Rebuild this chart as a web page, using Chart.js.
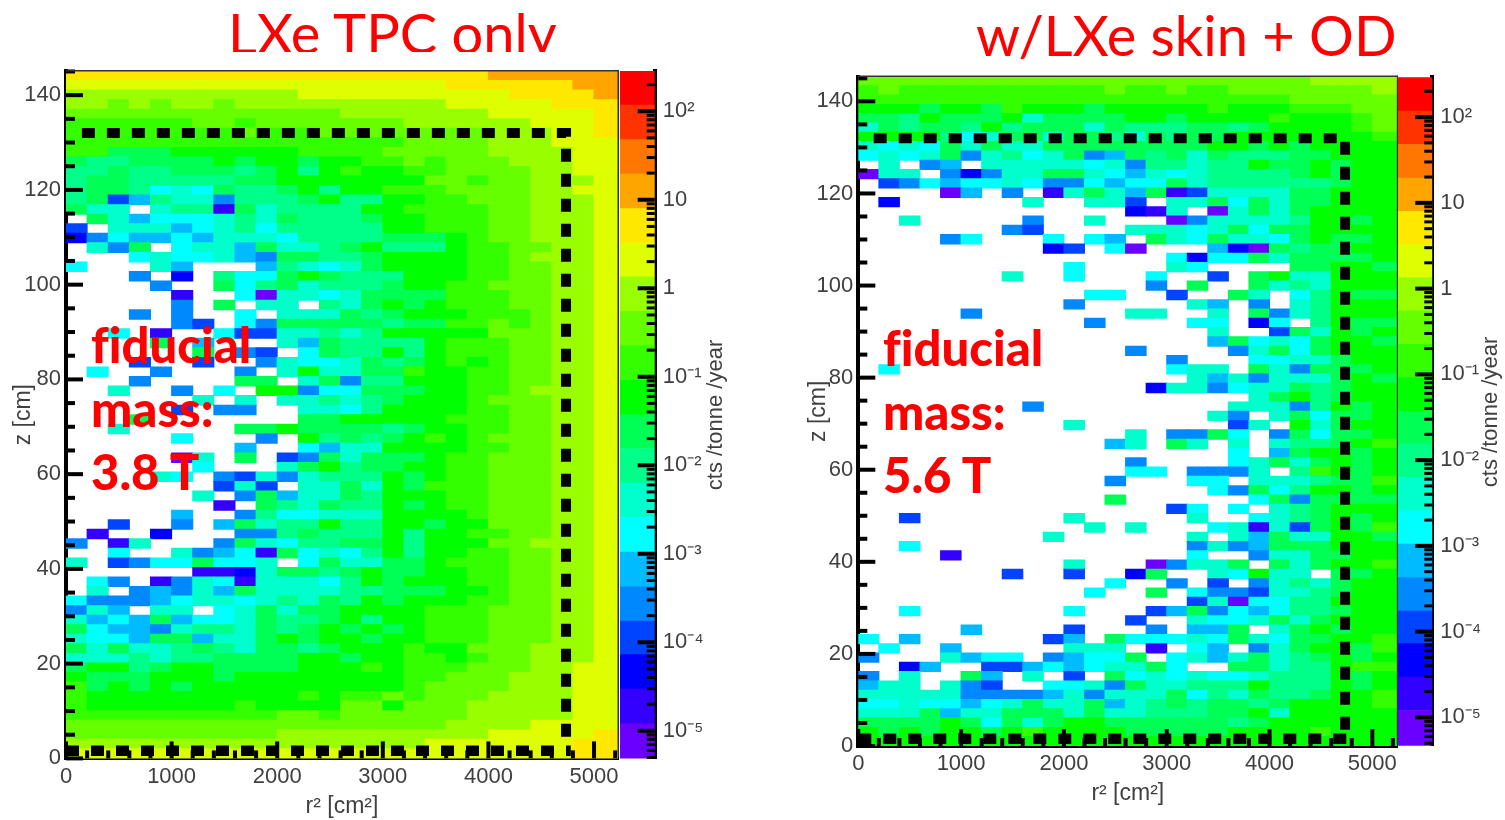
<!DOCTYPE html>
<html>
<head>
<meta charset="utf-8">
<title>LXe TPC background maps</title>
<script src="https://cdn.jsdelivr.net/npm/chart.js@4/dist/chart.umd.min.js"></script>
<style>
  html, body { margin: 0; padding: 0; background: #fff; }
  body { width: 1505px; height: 820px; position: relative; overflow: hidden; }
  canvas { position: absolute; top: 0; }
  .title { position: absolute; color: #f00; font-family: Lato, sans-serif; font-size: 56px; line-height: 66px; white-space: nowrap; overflow: hidden; }
  .mass { position: absolute; color: #f00; font-family: Lato, sans-serif; font-weight: 900; font-size: 49px; line-height: 63.5px; white-space: nowrap; font-variant-ligatures: none; }
</style>
</head>
<body>
<canvas id="leftMap"></canvas>
<canvas id="leftBar"></canvas>
<canvas id="rightMap"></canvas>
<canvas id="rightBar"></canvas>
<div class="title" style="left:228px;top:0;height:52px">LXe TPC only</div>
<div class="title" style="left:976px;top:2px">w/LXe skin + OD</div>
<div class="mass" style="left:91px;top:313px">fiducial<br>mass:<br>3.8 T</div>
<div class="mass" style="left:883px;top:316px">fiducial<br>mass:<br>5.6 T</div>
<script>
// colour levels of the palette, lowest first; '.' in a row means an empty bin
const levelChars = '0123456789abcdefghij';
const levelColors = ['#6a00ff', '#3300ff', '#0000ff', '#0044ff', '#0088ff', '#00bbff', '#00ffff', '#00ffcc', '#00ff88', '#00ff55',
  '#00ff00', '#33ff00', '#66ff00', '#99ff00', '#ddff00', '#ffe800', '#ffa500', '#ff7700', '#ff3300', '#ff0000'];
const levelEdges = [-5.4, -4.92, -4.53, -4.14, -3.76, -3.37, -2.98, -2.59, -2.2, -1.81, -1.43, -1.04, -0.65, -0.26, 0.13, 0.51, 0.9, 1.29, 1.68, 2.07, 2.5];

// LXe TPC only, top row first, one character per 200 cm2 bin
const leftRows = [
  'ffffffffffffffffffffgggggg',
  'eeeeeeeeeeeeeeeeeeffffffgg',
  'dddddddddddeeeeeeeeeeffffg',
  'ddcdcddcddddddddddeeeeefff',
  'cccccccccccccdddddddeeeeef',
  'bbbbbbccbcccccccddddddeeef',
  'bbbbbbbbcbbbccccccccdddeef',
  'bbbbbbbbbbbbbbbbccccdddeee',
  'bb999aaaaaabbbbcccccddddee',
  '9889999a9aa9aabbcbcccdddee',
  '8898899989a8abaabbccccddee',
  '8998888899aaaaaaaccbccddde',
  '89986769889a8aabbbccccddee',
  '893587748889a88aabbcccddde',
  '977.7881978888aabbbbccddde',
  '.97566678798889aabbbccddde',
  '3.7775678688888aabbbccddde',
  '246556577768888999abccddde',
  '.749.677597789a888abbccdde',
  '...676675499889aaaabbcddde',
  '6...75...587679aaaabbccdde',
  '...4.2.8669a9888aaabbccdde',
  '....4..968978889aabbcccdde',
  '.....1..6077679999bbbccdde',
  '.....4.9.77.879a9abbbccdde',
  '...4.4..6.777989aaabbbcdde',
  '.....43.6499999899bbcbcdde',
  '..6.1..63377878aaaaacccdde',
  '....9.5...7598888abbbccdde',
  '......9.43.6988a8abbbccdde',
  '...3..3..47667989ababccdde',
  '.6..4...4.7a7799baabbccdde',
  '...4....99.79488aaabbccdde',
  '..7..4.6.aa466999aabbcddde',
  '......7.7.778789aaabcccdde',
  '.....3.44..7768aaaabbccdde',
  '...9.......99aaaaabbbccdde',
  '..7.....99a999989aabbccdde',
  '.....6...4.a8989ababcccdde',
  '........5..6577aaaabbccdde',
  '.....07.9.3497999abbcccdde',
  '......6...79a899aabbcccdde',
  '....76.43747888a9abbcccdde',
  '.......373.7797a9bbbcccdde',
  '......7.4957798aaabbcccdde',
  '.......1.987988a9abbcccdde',
  '.....5..4866777aaaabcccdde',
  '..3..4.59788a88aa9aacccdde',
  '.1..2...4489888a8aabbccdde',
  '4.17...49768899a8aaaccddde',
  '..6..7456196768a8aabbccdde',
  '7.34669667.697799abbbccdde',
  '......11279989a99aabbccdde',
  '.64.1476177768a9aaabbccdde',
  '.7.454759777788999aabccdde',
  '64445677678798a9aaabbccdde',
  '475.77.679799aaaabbbcccdde',
  '7565956679889a8aabbbcccdde',
  '965547887989a9a9abbbcccdde',
  '7665995779a9aa9aabbbcccdde',
  '9797789879989aaabaacccddde',
  '77787889999aa9aabbabccddde',
  '9aa89aa9999aaababbbcccddee',
  'a999aaa9aaaaaaaabbcccdddee',
  'b9a9a9aaaaaaaaaabccccdddee',
  'baaaaaaaaaababbcbcccddddee',
  'baaaaaaabaaaaccacccdddddee',
  'bbbbbbbbbbccbccccccdddddee',
  'ccccccccccccccccccddddeeee',
  'ccccccccccddddddddddeeeeef',
  'dddddddddddddddddeeeeeeeff',
  'eeeeeeeeeeeeeeeeeeeeeeeeff'
];

// w/LXe skin + OD
const rightRows = [
  'ccccccccccccccccccccccdddd',
  'bcbbbbbbbbbbcbbcbbcccccccd',
  'bbbbbbbbbbbbbbbbbbbbbccccc',
  'aaa9aa9baaa9aaaaabaaabbbcc',
  '998a999a79999aa9aaaabaaabc',
  '798998a8999798889989aaaabc',
  'aaaa86799799879899aaaaaaab',
  '76769797799999999aa9a9aaaa',
  '67679478679459897988899aaa',
  '.7.45.7777767488788a99a9aa',
  '077.424779976576788889a9aa',
  '.34656676446566978888889aa',
  '....05.4.17975913777799aaa',
  '.2......7..773.77969799aaa',
  '.............217.07979aaaa',
  '..7.....4..7...0477778aa9a',
  '.......43....777679699aaaa',
  '....46...6.65.97697769a99a',
  '.........23.60...5209899aa',
  '...............6266979999a',
  '..........6....76....99aa9',
  '.......7..6...6..3.9a77aaa',
  '..............4.9..9787aaa',
  '...........66..3..97.68a99',
  '..........4.....75.4.78aaa',
  '.....4.......77..7.9478aaa',
  '...........4....66.26.8a99',
  '.................7..397a9a',
  '.................596769aa9',
  '.............4....47969aaa',
  '...............4...66779aa',
  '.6.............677.974999a',
  '................75747779a9',
  '..............2774677989aa',
  '...................79a89aa',
  '........4.........77748a9a',
  '.................74.79699a',
  '..........7.......37.a79aa',
  '.............7.4496.49699a',
  '............57.97.7.7889ab',
  '..................6.59aa9a',
  '.............4....67979a9a',
  '.............66.4447.8ba9a',
  '............4...66.777899b',
  '.................64968aa9a',
  '............9......6949999',
  '...............36.6.789aaa',
  '..3.......7.....7..6789a9a',
  '...........7.7...671739a9b',
  '.........7......7.75977aa9',
  '..6.............4745999aaa',
  '....1...........6..47799aa',
  '..........7...04779.979aab',
  '.......3..3..29..76a77.99a',
  '............6..4.3.47879aa',
  '...........6..9.64437789aa',
  '................3706688aaa',
  '..6.......6...3594656889aa',
  '.............3..7667979aaa',
  '.....5....3...4.559.79a9aa',
  '6.5......35.96667697699aab',
  '.6..5.....777.1.65.479aa9b',
  '4...7566.45669.67579789a9a',
  '..25..3356567796..99788abb',
  '4.7..95.7.3.96767667888a9a',
  '577.743..6674977888a888a9a',
  '77777444457477796879889aab',
  '667665679779578989989aaaab',
  '7779577999797788899a7aaaaa',
  '9999a96979aa99999989aaaaaa',
  'a9a9aa9abaaaa99999aaaabaaa',
  'aaaaaaaaaaaaaaaaaaaaaaaaaa'
];

// axis ticks and labels
const xTickValues = [0, 1000, 2000, 3000, 4000, 5000];
const xMinorValues = [200, 400, 600, 800, 1200, 1400, 1600, 1800, 2200, 2400, 2600, 2800, 3200, 3400, 3600, 3800, 4200, 4400, 4600, 4800, 5200];
const zTickValues = [0, 20, 40, 60, 80, 100, 120, 140];
const zMinorValues = [5, 10, 15, 25, 30, 35, 45, 50, 55, 65, 70, 75, 85, 90, 95, 105, 110, 115, 125, 130, 135, 145];
const barTickValues = [100, 10, 1, 0.1, 0.01, 0.001, 0.0001, 0.00001];
const barTickLabels = ['10²', '10', '1', '10⁻¹', '10⁻²', '10⁻³', '10⁻⁴', '10⁻⁵'];
const barMinorFactors = [2, 3, 4, 5, 6, 7, 8, 9];

// fiducial volume outline, r2 and z
const fiducialR = [150, 4735, 4735];
const fiducialZ = [132, 132, 3];
const fiducialBottomR = [0, 4780];
const fiducialBottomZ = [1.6, 1.6];

const inkColor = '#404040';
const binWidth = 200;
const zBins = 72;

// ROOT style ticks pointing into the frame
const innerTicks = {
  id: 'innerTicks',
  afterDraw(chart, args, opts) {
    const { ctx, chartArea: area } = chart;
    ctx.save();
    ctx.fillStyle = '#000';
    (opts.marks || []).forEach(m => {
      const scale = chart.scales[m.axis];
      m.values.forEach(v => {
        if (v < scale.min || v > scale.max) { return; }
        const p = scale.getPixelForValue(v);
        if (m.axis === 'x') {
          ctx.fillRect(p - m.width / 2, area.bottom - m.length, m.width, m.length);
        } else if (m.side === 'right') {
          ctx.fillRect(area.right - m.length, p - m.width / 2, m.length, m.width);
        } else {
          ctx.fillRect(area.left, p - m.width / 2, m.length, m.width);
        }
      });
    });
    if (opts.frame) {
      ctx.fillStyle = '#333';
      ctx.fillRect(area.left, area.top - 1, area.width, 1.5);
      ctx.fillRect(area.right - 0.5, area.top - 1, 1.5, area.height);
    }
    if (opts.sideTitle) {
      ctx.translate(opts.sideTitle.x, opts.sideTitle.y);
      ctx.rotate(-Math.PI / 2);
      ctx.fillStyle = inkColor;
      ctx.font = '22px "Liberation Sans"';
      ctx.textAlign = 'center';
      ctx.textBaseline = 'middle';
      ctx.fillText(opts.sideTitle.text, 0, 0);
    }
    ctx.restore();
  }
};

function buildCells(rows, zMax) {
  const cells = [];
  const h = zMax / zBins;
  rows.forEach((row, k) => {
    // the last bin runs past the frame, so it is repeated and clipped
    (row + row[row.length - 1]).split('').forEach((ch, j) => {
      const level = levelChars.indexOf(ch);
      if (level < 0) { return; }
      cells.push({ x: binWidth * (j + 0.5), y: [zMax - h * (k + 1), zMax - h * k], level });
    });
  });
  return cells;
}

function dashLine(xs, zs, width) {
  return {
    type: 'line',
    data: xs.map((x, i) => ({ x, y: zs[i] })),
    borderColor: '#000',
    borderWidth: width,
    borderDash: [13, 12],
    borderCapStyle: 'butt',
    borderJoinStyle: 'miter',
    pointRadius: 0,
    fill: false,
    tension: 0
  };
}

function createMap(id, rows, cfg) {
  const canvas = document.getElementById(id);
  canvas.style.left = cfg.canvasLeft + 'px';
  canvas.width = cfg.canvasWidth;
  canvas.height = 820;
  const cells = buildCells(rows, cfg.zMax);
  return new Chart(canvas, {
    type: 'bar',
    plugins: [innerTicks],
    data: {
      datasets: [
        dashLine(fiducialBottomR, fiducialBottomZ, 10.5),
        dashLine(fiducialR, fiducialZ, 10),
        {
          data: cells,
          backgroundColor: cells.map(c => levelColors[c.level]),
          barPercentage: 1,
          categoryPercentage: 1,
          borderWidth: 0,
          inflateAmount: 0.5
        }
      ]
    },
    options: {
      responsive: false,
      animation: false,
      events: [],
      layout: { padding: { top: cfg.top, right: cfg.canvasWidth - cfg.right, left: 0, bottom: 0 } },
      plugins: {
        legend: { display: false },
        tooltip: { enabled: false },
        innerTicks: {
          frame: true,
          marks: [
            { axis: 'x', values: xTickValues, length: 17, width: 4 },
            { axis: 'x', values: xMinorValues, length: 8, width: 4 },
            { axis: 'y', values: zTickValues, length: 17, width: 4 },
            { axis: 'y', values: zMinorValues, length: 9, width: 4 }
          ]
        }
      },
      scales: {
        x: {
          type: 'linear',
          min: 0,
          max: cfg.rMax,
          offset: false,
          grid: { display: false, drawTicks: false, offset: false },
          border: { display: true, color: '#000', width: 4 },
          afterBuildTicks: s => { s.ticks = xTickValues.map(value => ({ value })); },
          afterFit: s => { s.height = 820 - cfg.bottom; s.paddingLeft = 0; s.paddingRight = 0; },
          ticks: { color: inkColor, font: { family: 'Liberation Sans', size: 22 }, padding: 5, maxRotation: 0, autoSkip: false, callback: v => String(v) },
          title: { display: true, text: 'r² [cm²]', color: inkColor, font: { family: 'Liberation Sans', size: 23 }, padding: { top: 0, bottom: cfg.xTitlePad } }
        },
        y: {
          type: 'linear',
          min: 0,
          max: cfg.zMax,
          grid: { display: false, drawTicks: false },
          border: { display: true, color: '#000', width: 4 },
          afterBuildTicks: s => { s.ticks = zTickValues.map(value => ({ value })); },
          afterFit: s => { s.width = cfg.left; s.paddingTop = 0; s.paddingBottom = 0; },
          ticks: { color: inkColor, font: { family: 'Liberation Sans', size: 22 }, padding: 5, autoSkip: false },
          title: { display: true, text: 'z [cm]', color: inkColor, font: { family: 'Liberation Sans', size: 23 }, padding: { top: cfg.zTitlePad, bottom: 0 } }
        }
      }
    }
  });
}

function createBar(id, cfg) {
  const canvas = document.getElementById(id);
  canvas.style.left = cfg.canvasLeft + 'px';
  canvas.width = cfg.canvasWidth;
  canvas.height = 820;
  const minorValues = [];
  barTickValues.concat([1000, 0.000001]).forEach(decade => {
    barMinorFactors.forEach(f => minorValues.push(decade * f));
  });
  return new Chart(canvas, {
    type: 'bar',
    plugins: [innerTicks],
    data: {
      labels: ['level'],
      datasets: levelColors.map((color, i) => ({
        data: [[Math.pow(10, levelEdges[i]), Math.pow(10, levelEdges[i + 1])]],
        backgroundColor: color,
        grouped: false,
        barPercentage: 1,
        categoryPercentage: 1,
        borderWidth: 0
      }))
    },
    options: {
      responsive: false,
      animation: false,
      events: [],
      layout: { padding: { top: cfg.top, left: 0, right: 0, bottom: 820 - cfg.bottom } },
      plugins: {
        legend: { display: false },
        tooltip: { enabled: false },
        innerTicks: {
          sideTitle: { text: 'cts /tonne /year', x: cfg.titleX, y: cfg.titleY },
          marks: [
            { axis: 'y', side: 'right', values: barTickValues, length: 17, width: 4 },
            { axis: 'y', side: 'right', values: minorValues, length: 8, width: 3 }
          ]
        }
      },
      scales: {
        x: { display: false, offset: true, grid: { display: false } },
        y: {
          type: 'logarithmic',
          position: 'right',
          min: Math.pow(10, cfg.logMin),
          max: Math.pow(10, cfg.logMax),
          grid: { display: false, drawTicks: false },
          border: { display: true, color: '#000', width: 4 },
          afterBuildTicks: s => { s.ticks = barTickValues.map(value => ({ value })); },
          afterFit: s => { s.width = cfg.canvasWidth - cfg.area; s.paddingTop = 0; s.paddingBottom = 0; },
          ticks: {
            color: inkColor,
            font: { family: 'Liberation Sans', size: 22 },
            padding: 8,
            autoSkip: false,
            callback: (v, i) => barTickLabels[i]
          }
        }
      }
    }
  });
}

createMap('leftMap', leftRows, {
  canvasLeft: 0, canvasWidth: 620, left: 66, right: 618, top: 71, bottom: 758.4,
  rMax: 5227, zMax: 145.1, xTitlePad: 0, zTitlePad: 10
});
createMap('rightMap', rightRows, {
  canvasLeft: 800, canvasWidth: 598, left: 58.3, right: 597.3, top: 76.5, bottom: 746,
  rMax: 5243, zMax: 145.4, xTitlePad: 13, zTitlePad: 5
});
createBar('leftBar', {
  canvasLeft: 620, canvasWidth: 130, area: 34.7, top: 71, bottom: 758.4,
  logMin: -5.312, logMax: 2.455, titleX: 96, titleY: 415
});
createBar('rightBar', {
  canvasLeft: 1397.7, canvasWidth: 107, area: 34.3, top: 77.3, bottom: 745.7,
  logMin: -5.33, logMax: 2.464, titleX: 93, titleY: 412
});
</script>
</body>
</html>
